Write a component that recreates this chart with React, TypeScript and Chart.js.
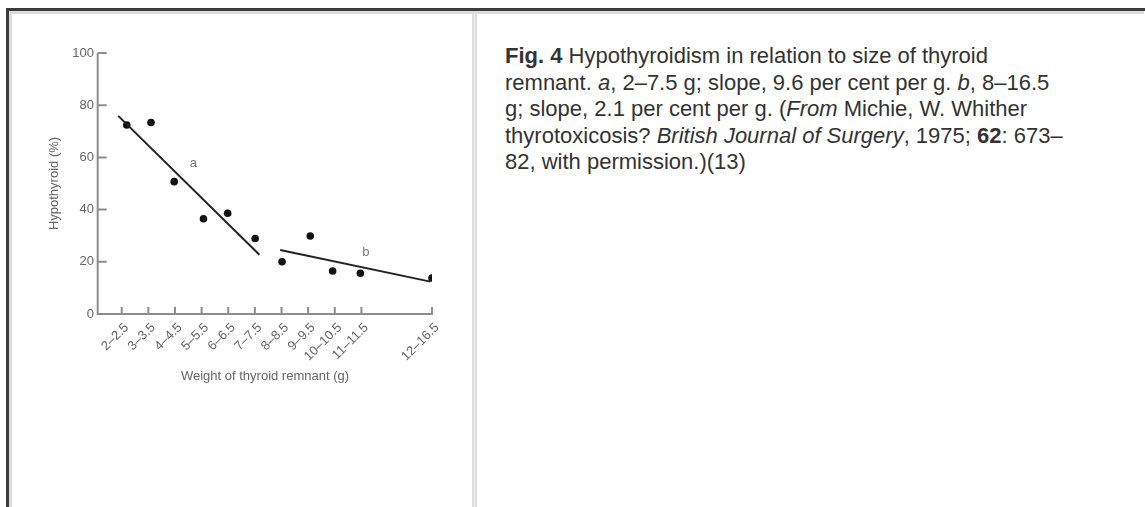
import React, { useEffect, useRef } from "react";
import { Chart, registerables } from "chart.js";

Chart.register(...registerables);

// ---- data ----
const xLabels = ["2–2.5", "3–3.5", "4–4.5", "5–5.5", "6–6.5", "7–7.5", "8–8.5", "9–9.5", "10–10.5", "11–11.5", "12–16.5"];
const xPositions = [0, 1, 2, 3, 4, 5, 6, 7, 8, 9, 11.65];
const pointX = [0.19, 1.1, 1.97, 3.07, 3.98, 5.01, 6.02, 7.08, 7.92, 8.96, 11.65];
const hypothyroid = [72.4, 73.4, 50.7, 36.5, 38.6, 28.9, 20.0, 29.9, 16.5, 15.6, 13.8];
const yTicks = [0, 20, 40, 60, 80, 100];
const lineAX = [-0.13, 5.17];
const lineAY = [75.9, 22.7];
const lineBX = [5.95, 11.59];
const lineBY = [24.5, 12.4];
const segmentLabels = ["a", "b"];
const segmentLabelX = [2.69, 9.17];
const segmentLabelY = [57.7, 23.5];

const FONT = '"Liberation Sans", Arial, Helvetica, sans-serif';
const AXIS_GRAY = "#8c8c8c";
const TEXT_GRAY = "#666666";

const axisPlugin = {
  id: "axisMarks",
  beforeDatasetsDraw(chart: any) {
    const { ctx, chartArea, scales } = chart;
    const xs = scales.x;
    const ys = scales.y;
    const x0 = chartArea.left - 0.3;
    const y0 = ys.getPixelForValue(0);
    const yTop = ys.getPixelForValue(100);
    const xEnd = xs.getPixelForValue(xPositions[xPositions.length - 1]);
    ctx.save();
    ctx.strokeStyle = AXIS_GRAY;
    ctx.lineWidth = 2;
    ctx.lineCap = "butt";
    ctx.beginPath();
    ctx.moveTo(x0, yTop);
    ctx.lineTo(x0, y0);
    ctx.lineTo(xEnd + 1, y0);
    ctx.stroke();
    ctx.beginPath();
    yTicks.forEach((v) => {
      const py = ys.getPixelForValue(v);
      ctx.moveTo(x0, py);
      ctx.lineTo(x0 + 9, py);
    });
    xPositions.forEach((v) => {
      const px = xs.getPixelForValue(v);
      ctx.moveTo(px, y0);
      ctx.lineTo(px, y0 - 7);
    });
    ctx.stroke();
    ctx.restore();
  },
  afterDatasetsDraw(chart: any) {
    const { ctx, scales } = chart;
    ctx.save();
    ctx.fillStyle = "#777777";
    ctx.font = `13px ${FONT}`;
    ctx.textAlign = "center";
    ctx.textBaseline = "middle";
    segmentLabels.forEach((t, i) => {
      ctx.fillText(t, scales.x.getPixelForValue(segmentLabelX[i]), scales.y.getPixelForValue(segmentLabelY[i]));
    });
    ctx.restore();
  },
};

function ChartBox() {
  const ref = useRef<HTMLCanvasElement | null>(null);
  useEffect(() => {
    if (!ref.current) return;
    const chart = new Chart(ref.current, {
      type: "scatter",
      data: {
        datasets: [
          {
            type: "line",
            data: lineAX.map((x, i) => ({ x, y: lineAY[i] })),
            borderColor: "#222222",
            borderWidth: 2,
            pointRadius: 0,
            fill: false,
          } as any,
          {
            type: "line",
            data: lineBX.map((x, i) => ({ x, y: lineBY[i] })),
            borderColor: "#222222",
            borderWidth: 2,
            pointRadius: 0,
            fill: false,
          } as any,
          {
            data: pointX.map((x, i) => ({ x, y: hypothyroid[i] })),
            pointRadius: 3.8,
            pointBackgroundColor: "#111111",
            pointBorderWidth: 0,
            showLine: false,
          } as any,
        ],
      },
      options: {
        animation: false,
        responsive: false,
        maintainAspectRatio: false,
        events: [],
        layout: { padding: { left: 0, top: 53, right: 38, bottom: 113 } },
        plugins: { legend: { display: false }, tooltip: { enabled: false } },
        scales: {
          x: {
            type: "linear",
            min: -0.89,
            max: 11.65,
            grid: { display: false, drawTicks: false },
            border: { display: false },
            afterBuildTicks: (s: any) => {
              s.ticks = xPositions.map((v) => ({ value: v }));
            },
            afterFit: (s: any) => {
              s.height = 80;
            },
            ticks: {
              autoSkip: false,
              minRotation: 45,
              maxRotation: 45,
              padding: 6,
              labelOffset: 5,
              color: TEXT_GRAY,
              font: { family: FONT, size: 13 },
              callback: (_v: any, i: number) => xLabels[i],
            },
            title: {
              display: true,
              text: "Weight of thyroid remnant (g)",
              color: TEXT_GRAY,
              font: { family: FONT, size: 13 },
              padding: { top: 0, bottom: 10 },
            },
          },
          y: {
            type: "linear",
            min: 0,
            max: 100,
            grid: { display: false, drawTicks: false },
            border: { display: false },
            afterBuildTicks: (s: any) => {
              s.ticks = yTicks.map((v) => ({ value: v }));
            },
            afterFit: (s: any) => {
              s.width = 98;
            },
            ticks: {
              padding: 4,
              color: TEXT_GRAY,
              font: { family: FONT, size: 13 },
            },
            title: {
              display: true,
              text: "Hypothyroid (%)",
              color: TEXT_GRAY,
              font: { family: FONT, size: 13 },
              padding: { top: 47, bottom: 0 },
            },
          },
        },
      },
      plugins: [axisPlugin],
    } as any);
    return () => chart.destroy();
  }, []);
  return (
    <canvas
      ref={ref}
      width={470}
      height={507}
      style={{ position: "absolute", left: 0, top: 0, width: 470, height: 507 }}
    />
  );
}

export default function App() {
  const abs = (l: number, t: number, w: number, h: number, bg: string): React.CSSProperties => ({
    position: "absolute",
    left: l,
    top: t,
    width: w,
    height: h,
    background: bg,
  });
  return (
    <div style={{ position: "absolute", left: 0, top: 0, width: 1145, height: 507, overflow: "hidden", background: "#fff" }}>
      <div style={abs(6, 8, 1139, 3, "#3c3c3c")} />
      <div style={abs(6, 8, 3, 499, "#3c3c3c")} />
      <div style={abs(9, 11, 1135, 3, "#dcdcdc")} />
      <div style={abs(9, 11, 3, 496, "#dcdcdc")} />
      <div style={abs(472, 11, 5, 496, "#dcdcdc")} />
      <div style={abs(474, 14, 1, 493, "#ededed")} />
      <ChartBox />
      <div
        style={{
          position: "absolute",
          left: 505,
          top: 43,
          width: 564,
          fontFamily: FONT,
          fontSize: 22,
          lineHeight: "26.6px",
          color: "#333333",
        }}
      >
        <b>Fig. 4</b> Hypothyroidism in relation to size of thyroid remnant. <i>a</i>, 2–7.5 g; slope, 9.6 per cent per g.{" "}
        <i>b</i>, 8–16.5 g; slope, 2.1 per cent per g. (<i>From</i> Michie, W. Whither thyrotoxicosis?{" "}
        <i>British Journal of Surgery</i>, 1975; <b>62</b>: 673–82, with permission.)(13)
      </div>
    </div>
  );
}
